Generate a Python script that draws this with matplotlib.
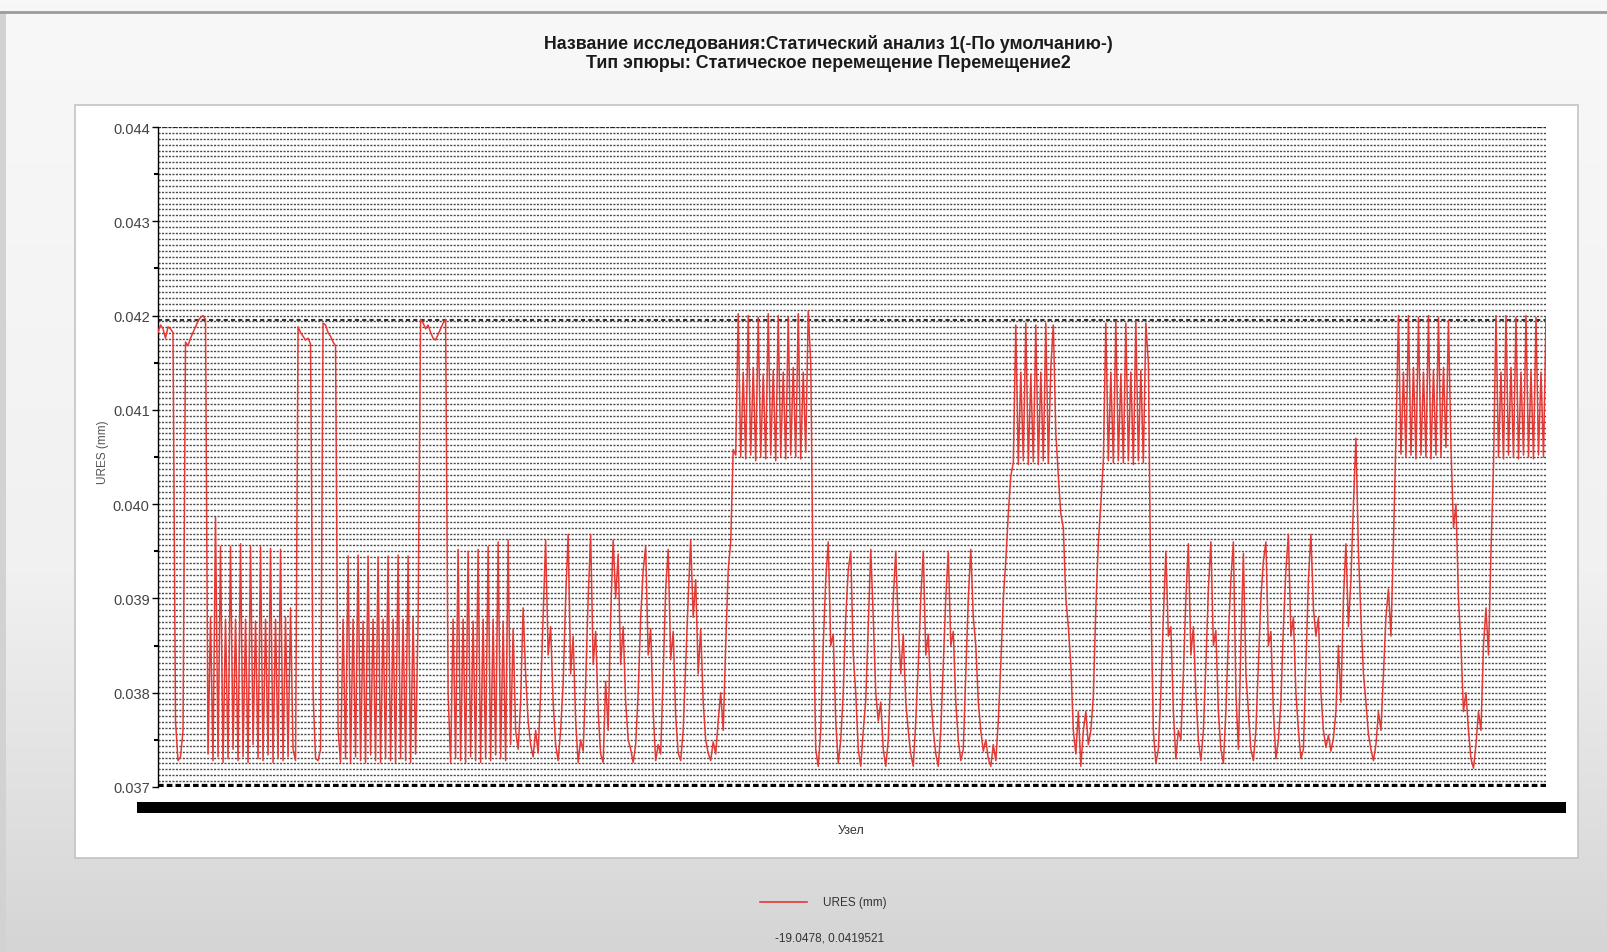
#Recreates the SolidWorks-style URES displacement plot (screenshot look)
import numpy as np
import matplotlib
import matplotlib.pyplot as plt
import matplotlib.ticker as ticker
from matplotlib.patches import Rectangle
from matplotlib.lines import Line2D
from matplotlib.colors import LinearSegmentedColormap

matplotlib.rcParams['font.family'] = ['Liberation Sans', 'DejaVu Sans']

title_1 = 'Название исследования:Статический анализ 1(-По умолчанию-)'
title_2 = 'Тип эпюры: Статическое перемещение Перемещение2'
x_label = 'Узел'
y_label = 'URES (mm)'
legend_label = 'URES (mm)'
cursor_text = '-19.0478, 0.0419521'
cursor_y = 0.0419521
y_ticks = [0.037, 0.038, 0.039, 0.040, 0.041, 0.042, 0.043, 0.044]
y_tick_labels = ['0.037', '0.038', '0.039', '0.040', '0.041', '0.042', '0.043', '0.044']

# URES (mm) along the nodes
start_shelf = [0.04182, 0.04190, 0.04186, 0.04176, 0.04188, 0.04186, 0.04182, 0.03770,
               0.03728, 0.03732, 0.03760, 0.04172, 0.04168, 0.04176, 0.04182, 0.04188,
               0.04194, 0.04198, 0.04200, 0.04196]
comb_1 = [0.03735, 0.03880, 0.03728, 0.03986, 0.03732, 0.03955, 0.03726, 0.03878,
          0.03730, 0.03955, 0.03740, 0.03878, 0.03728, 0.03958, 0.03732, 0.03878,
          0.03726, 0.03955, 0.03745, 0.03876, 0.03730, 0.03955, 0.03728, 0.03878,
          0.03734, 0.03953, 0.03726, 0.03878, 0.03730, 0.03952, 0.03728, 0.03880,
          0.03732, 0.03890, 0.03740, 0.03728]
shelf_2 = [0.04188, 0.04182, 0.04178, 0.04174, 0.04176, 0.04170, 0.03800, 0.03730,
           0.03728, 0.03740, 0.04192, 0.04190, 0.04182, 0.04178, 0.04172, 0.04168,
           0.03760]
comb_2 = [0.03726, 0.03878, 0.03730, 0.03945, 0.03726, 0.03878, 0.03732, 0.03946,
          0.03728, 0.03876, 0.03726, 0.03945, 0.03734, 0.03878, 0.03728, 0.03944,
          0.03726, 0.03878, 0.03730, 0.03945, 0.03728, 0.03878, 0.03726, 0.03946,
          0.03730, 0.03878, 0.03728, 0.03945, 0.03726, 0.03880, 0.03735, 0.03878]
shelf_3 = [0.04196, 0.04192, 0.04186, 0.04190, 0.04182, 0.04176, 0.04174, 0.04180,
           0.04186, 0.04192, 0.04196, 0.03800]
comb_3 = [0.03726, 0.03878, 0.03730, 0.03952, 0.03728, 0.03878, 0.03726, 0.03950,
          0.03732, 0.03876, 0.03728, 0.03952, 0.03726, 0.03878, 0.03730, 0.03955,
          0.03728, 0.03878, 0.03734, 0.03960, 0.03730, 0.03876, 0.03728, 0.03962,
          0.03745, 0.03868, 0.03760, 0.03740]
wave_1 = [0.03790, 0.03890, 0.03820, 0.03770, 0.03745, 0.03732, 0.03760, 0.03736,
          0.03800, 0.03880, 0.03962, 0.03840, 0.03870, 0.03790, 0.03745, 0.03728,
          0.03760, 0.03810, 0.03900, 0.03968, 0.03820, 0.03860, 0.03770, 0.03726,
          0.03750, 0.03738, 0.03810, 0.03900, 0.03968, 0.03830, 0.03865, 0.03780,
          0.03735, 0.03726, 0.03812, 0.03760, 0.03880, 0.03962, 0.03900, 0.03947,
          0.03830, 0.03870, 0.03790, 0.03750, 0.03740, 0.03726, 0.03745, 0.03800,
          0.03880, 0.03930, 0.03955, 0.03840, 0.03868, 0.03780, 0.03728, 0.03745,
          0.03735, 0.03820, 0.03910, 0.03952, 0.03835, 0.03865, 0.03775, 0.03736,
          0.03728, 0.03760, 0.03830, 0.03900, 0.03962, 0.03880, 0.03920, 0.03820,
          0.03868, 0.03790, 0.03750, 0.03736, 0.03728, 0.03748, 0.03735, 0.03770,
          0.03800, 0.03760, 0.03850, 0.03930]
block_1 = [0.03960, 0.04058, 0.04052, 0.04202, 0.04050, 0.04140, 0.04048, 0.04200,
           0.04052, 0.04145, 0.04046, 0.04198, 0.04050, 0.04138, 0.04048, 0.04202,
           0.04052, 0.04142, 0.04046, 0.04200, 0.04050, 0.04140, 0.04048, 0.04198,
           0.04052, 0.04145, 0.04050, 0.04202, 0.04048, 0.04140, 0.04055, 0.04205,
           0.04150]
wave_2 = [0.03900, 0.03740, 0.03722, 0.03760, 0.03850, 0.03920, 0.03960, 0.03850,
          0.03862, 0.03770, 0.03725, 0.03750, 0.03800, 0.03880, 0.03930, 0.03950,
          0.03840, 0.03800, 0.03740, 0.03722, 0.03760, 0.03792, 0.03870, 0.03952,
          0.03880, 0.03800, 0.03770, 0.03790, 0.03740, 0.03722, 0.03750, 0.03820,
          0.03900, 0.03950, 0.03870, 0.03820, 0.03862, 0.03790, 0.03760, 0.03735,
          0.03722, 0.03770, 0.03830, 0.03900, 0.03950, 0.03840, 0.03862, 0.03800,
          0.03760, 0.03735, 0.03722, 0.03760, 0.03830, 0.03900, 0.03950, 0.03850,
          0.03865, 0.03790, 0.03750, 0.03728, 0.03740, 0.03820, 0.03900, 0.03952,
          0.03880, 0.03850, 0.03790, 0.03760, 0.03738, 0.03750, 0.03730, 0.03722,
          0.03745, 0.03728, 0.03770, 0.03830, 0.03900, 0.03940, 0.03990, 0.04030]
block_2 = [0.04044, 0.04190, 0.04042, 0.04140, 0.04046, 0.04192, 0.04042, 0.04138,
           0.04045, 0.04190, 0.04042, 0.04140, 0.04046, 0.04192, 0.04044, 0.04145,
           0.04190]
fall_2 = [0.04075, 0.04030, 0.03990, 0.03975, 0.03900, 0.03870, 0.03830, 0.03760,
          0.03735, 0.03780, 0.03722, 0.03760, 0.03780, 0.03745, 0.03760, 0.03796,
          0.03890, 0.03960, 0.04000, 0.04046]
block_3 = [0.04192, 0.04046, 0.04140, 0.04044, 0.04194, 0.04046, 0.04138, 0.04044,
           0.04192, 0.04046, 0.04140, 0.04042, 0.04194, 0.04046, 0.04142, 0.04044,
           0.04192, 0.04150]
wave_3 = [0.03900, 0.03760, 0.03725, 0.03740, 0.03800, 0.03880, 0.03950, 0.03860,
          0.03870, 0.03780, 0.03730, 0.03760, 0.03750, 0.03820, 0.03900, 0.03958,
          0.03840, 0.03870, 0.03800, 0.03750, 0.03728, 0.03760, 0.03830, 0.03910,
          0.03960, 0.03850, 0.03866, 0.03780, 0.03740, 0.03725, 0.03780, 0.03860,
          0.03920, 0.03960, 0.03800, 0.03740, 0.03850, 0.03948, 0.03820, 0.03780,
          0.03740, 0.03728, 0.03760, 0.03830, 0.03900, 0.03940, 0.03960, 0.03850,
          0.03865, 0.03780, 0.03730, 0.03750, 0.03790, 0.03870, 0.03930, 0.03968,
          0.03860, 0.03880, 0.03800, 0.03760, 0.03730, 0.03740, 0.03830, 0.03920,
          0.03968, 0.03890, 0.03860, 0.03880, 0.03800, 0.03760, 0.03742, 0.03755,
          0.03738, 0.03752, 0.03780, 0.03850, 0.03790, 0.03900, 0.03958, 0.03870,
          0.03920, 0.04000, 0.04070, 0.03950, 0.03880, 0.03820, 0.03790, 0.03756,
          0.03740, 0.03728, 0.03745, 0.03780, 0.03760, 0.03820, 0.03880, 0.03910,
          0.03860, 0.03960]
block_4 = [0.04070, 0.04200, 0.04053, 0.04140, 0.04050, 0.04200, 0.04052, 0.04145,
           0.04048, 0.04198, 0.04052, 0.04140, 0.04050, 0.04200, 0.04048, 0.04142,
           0.04052, 0.04198, 0.04050, 0.04145, 0.04060, 0.04195]
fall_4 = [0.04060, 0.03975, 0.04000, 0.03900, 0.03850, 0.03780, 0.03800, 0.03760,
          0.03730, 0.03720, 0.03745, 0.03780, 0.03760, 0.03850, 0.03890, 0.03840,
          0.03950, 0.04040]
block_5 = [0.04200, 0.04050, 0.04140, 0.04048, 0.04200, 0.04052, 0.04145, 0.04050,
           0.04198, 0.04048, 0.04140, 0.04052, 0.04200, 0.04050, 0.04142, 0.04048,
           0.04198, 0.04052, 0.04140, 0.04050, 0.04198]

ures = np.concatenate([start_shelf, comb_1, shelf_2, comb_2, shelf_3, comb_3, wave_1,
                       block_1, wave_2, block_2, fall_2, block_3, wave_3, block_4,
                       fall_4, block_5])
node = np.arange(len(ures))

W, H = 1607, 953
fig = plt.figure(figsize=(W / 100, H / 100), dpi=100)

# screenshot background: light gray getting darker towards the bottom
bg = fig.add_axes([0, 0, 1, 1], zorder=0)
bg_cmap = LinearSegmentedColormap.from_list('bg', [(0, '#f8f8f8'), (0.6, '#f1f1f1'), (1, '#d5d5d5')])
bg.imshow(np.linspace(0, 1, 256).reshape(-1, 1), cmap=bg_cmap, aspect='auto', extent=[0, 1, 0, 1])
bg.set_xlim(0, 1)
bg.set_ylim(0, 1)
bg.axis('off')
bg.add_patch(Rectangle((75 / W, 1 - 859 / H), 1503 / W, 753 / H, facecolor='white',
                       edgecolor='#c4c4c4', lw=1.2))
bg.add_patch(Rectangle((0, 0), 6 / W, 1 - 14 / H, facecolor='#d2d2d2', edgecolor='none'))
bg.plot([0, 1], [1 - 13 / H] * 2, color='#9c9c9c', lw=2)
# the overlapping node labels show up as a solid black bar
bg.add_patch(Rectangle((137 / W, 1 - 814 / H), 1429 / W, 11 / H, facecolor='black', edgecolor='none'))

ax = fig.add_axes([158 / W, 1 - 788 / H, 1388 / W, 660 / H], zorder=2)
ax.set_facecolor('none')

# dense dotted horizontal grid
grid_levels = np.arange(0.037, 0.04401, 0.0000625)
ax.hlines(grid_levels, 0, node[-1], colors='#4a4a4a', linestyles=(0, (1.5, 1.0)), lw=1.0, zorder=1)
ax.hlines([0.044], 0, node[-1], colors='#222222', linestyles=(0, (1.5, 1.0)), lw=1.5, zorder=1)
ax.hlines([cursor_y], 0, node[-1], colors='#333333', linestyles=(0, (2, 1.5)), lw=1.5, zorder=1)
ax.hlines([0.037], 0, node[-1], colors='black', linestyles=(0, (0.9, 0.5)), lw=4.5, zorder=4)

ax.plot(node, ures, color='#e53935', lw=1.1, zorder=3)

ax.set_xlim(0, node[-1])
ax.set_ylim(0.037, 0.044)
ax.set_xticks([])
ax.set_yticks(y_ticks)
ax.set_yticklabels(y_tick_labels, fontsize=10.5, color='#444444')
ax.yaxis.set_minor_locator(ticker.MultipleLocator(0.0005))
ax.tick_params(axis='y', which='major', length=4, width=1, color='black', pad=2)
ax.tick_params(axis='y', which='minor', length=3, width=1.5, color='black')
for side in ['top', 'right', 'bottom']:
    ax.spines[side].set_visible(False)
ax.spines['left'].set_color('black')
ax.spines['left'].set_linewidth(1)

fig.text(828 / W, 1 - 44 / H, title_1, ha='center', va='center', fontsize=12.8, fontweight='bold', color='#1a1a1a')
fig.text(828 / W, 1 - 63 / H, title_2, ha='center', va='center', fontsize=12.8, fontweight='bold', color='#1a1a1a')
fig.text(103 / W, 1 - 452 / H, y_label, rotation=90, ha='center', va='center', fontsize=8.5, color='#555555')
fig.text(851 / W, 1 - 831 / H, x_label, ha='center', va='center', fontsize=9, color='#333333')

fig.add_artist(Line2D([760 / W, 807 / W], [1 - 903 / H] * 2, color='#e53935', lw=1.2))
fig.text(823 / W, 1 - 903 / H, legend_label, ha='left', va='center', fontsize=8.5, color='#333333')
fig.text(830 / W, 1 - 939 / H, cursor_text, ha='center', va='center', fontsize=8.5, color='#333333')

plt.savefig('out.png', dpi=100)
plt.close()
